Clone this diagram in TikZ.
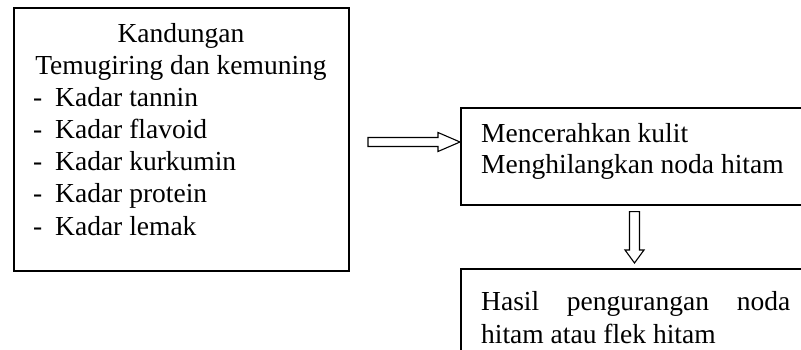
\documentclass[tikz,border=0pt]{standalone}
\usepackage{fontspec}
\setmainfont{Liberation Serif}
\usetikzlibrary{calc}
\begin{document}
\begin{tikzpicture}[x=1pt,y=-1pt,
  box/.style={draw=black,line width=1.6pt,rectangle,inner sep=0pt,anchor=north west},
  txt/.style={inner sep=0pt,font=\fontsize{27.5}{32}\selectfont},
  blockarrow/.style={draw=black,line width=1.1pt,fill=white,line join=miter}]
\useasboundingbox (0,0) rectangle (801,350);
\clip (0,0) rectangle (801,350);
% boxes
\node[box,minimum width=335pt,minimum height=263pt] (L) at (13,7) {};
\node[box,minimum width=380pt,minimum height=97pt] (R1) at (460,107) {};
\node[box,minimum width=380pt,minimum height=120pt] (R2) at (460,268) {};
% left text
\node[txt,anchor=base] (t0) at (181,43) {Kandungan};
\node[txt,anchor=base] (t1) at (181,75) {Temugiring dan kemuning};
\foreach \i/\s/\y in {2/Kadar tannin/107,3/Kadar flavoid/139,4/Kadar kurkumin/171,5/Kadar protein/203,6/Kadar lemak/235}{
  \node[txt,anchor=base west] (d\i) at (33,\y) {-};
  \node[txt,anchor=base west] (t\i) at (55,\y) {\s};
}
% right texts
\node[txt,anchor=base west] (m1) at (481,143) {Mencerahkan kulit};
\node[txt,anchor=base west] (m2) at (481,174) {Menghilangkan noda hitam};
\node[txt,anchor=base west] (h1) at (481,310) {\hbox to 309pt{Hasil\hfill pengurangan\hfill noda}};
\node[txt,anchor=base west] (h2) at (481,343) {hitam atau flek hitam};
% connectors (block arrows)
\coordinate (a1tip) at ($(R1.north west)+(0,35)$);
\coordinate (a1tail) at ($(a1tip)+(-92,0)$);
\draw[blockarrow] ($(a1tail)+(0,-4.5)$) -- ($(a1tip)+(-22,-4.5)$) -- ($(a1tip)+(-22,-9.5)$) -- (a1tip)
  -- ($(a1tip)+(-22,9.5)$) -- ($(a1tip)+(-22,4.5)$) -- ($(a1tail)+(0,4.5)$) -- cycle;
\coordinate (a2tip) at ($(R2.north west)+(174.5,-5)$);
\coordinate (a2tail) at ($(R1.south west)+(174.5,6)$);
\draw[blockarrow] ($(a2tail)+(-5,0)$) -- ($(a2tip)+(-5,-13)$) -- ($(a2tip)+(-9.5,-13)$) -- (a2tip)
  -- ($(a2tip)+(9.5,-13)$) -- ($(a2tip)+(5,-13)$) -- ($(a2tail)+(5,0)$) -- cycle;
\end{tikzpicture}
\end{document}
